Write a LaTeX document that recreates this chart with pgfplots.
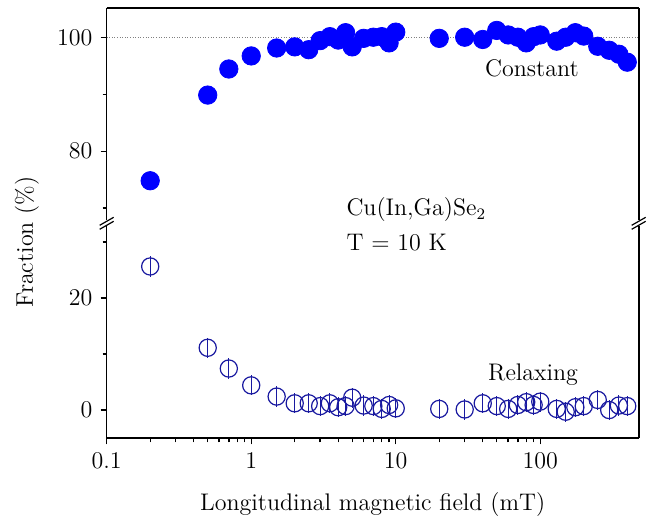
\documentclass[border=0pt]{standalone}
\usepackage{pgfplots}
\pgfplotsset{compat=1.18}
\usepackage{pgfplotstable}

\definecolor{dotblue}{RGB}{0,0,255}
\definecolor{ringblue}{RGB}{25,25,160}

% constant fraction (filled dots)
\pgfplotstableread{
x y
0.2 74.8
0.5 89.9
0.7 94.5
1 96.8
1.5 98.2
2 98.4
2.5 97.9
3 99.5
3.5 100.2
4 99.6
4.5 100.9
5 98.4
6 99.9
7 100.1
8 100.2
9 99.1
10 101.0
20 99.9
30 100.1
40 99.7
50 101.3
60 100.5
70 100.1
80 99.1
90 100.2
100 100.5
130 99.4
150 100.1
175 100.9
200 100.3
250 98.5
300 97.8
350 97.1
400 95.7
}\constant

% relaxing fraction (open circles with error bars)
\pgfplotstableread{
x y e
0.2 25.6 1.8
0.5 11.1 1.8
0.7 7.4 1.8
1 4.4 1.8
1.5 2.4 1.8
2 1.2 1.8
2.5 1.2 1.8
3 0.7 1.8
3.5 1.2 1.8
4 0.5 1.8
4.5 0.7 1.8
5 2.2 1.8
6 0.8 1.8
7 0.7 1.8
8 0.2 1.8
9 0.9 1.8
10 0.3 1.8
20 0.2 1.8
30 0.1 1.8
40 1.2 1.8
50 0.7 1.8
60 0.2 1.8
70 0.9 1.8
80 1.4 1.8
90 0.9 1.8
100 1.5 1.8
130 0.2 1.8
150 -0.3 1.8
175 0.5 1.8
200 0.7 1.8
250 1.8 1.8
300 0.0 1.8
350 0.8 1.8
400 0.7 1.8
}\relaxing

\begin{document}
\fontsize{12}{14}\selectfont
\begin{tikzpicture}

% lower part
\begin{axis}[
    width=266pt, height=107.5pt, scale only axis,
    at={(0,0)}, anchor=south west,
    xmode=log, xmin=0.1, xmax=480,
    axis x line=bottom, axis y line=box,
    axis line style={-, line width=0.8pt},
    tick align=outside, xtick pos=bottom, ytick pos=left,
    major tick length=3pt, minor tick length=2pt,
    every tick/.style={black, line width=0.7pt},
    log ticks with fixed point,
    xtick={0.1,1,10,100},
    ymin=-5.04, ymax=33.3,
    ytick={0,20}, minor ytick={10,30},
    xlabel={Longitudinal magnetic field (mT)},
    xlabel style={yshift=-4pt},
    clip=false,
]
\addplot[only marks, mark=o, mark size=4.3pt, ringblue, line width=0.6pt,
    error bars/.cd, y dir=both, y explicit, error mark=none,
    error bar style={ringblue, line width=0.6pt}]
  table[x=x, y=y, y error=e] {\relaxing};
\end{axis}

% upper part
\begin{axis}[
    width=266pt, height=107.5pt, scale only axis,
    at={(0,107.5pt)}, anchor=south west,
    xmode=log, xmin=0.1, xmax=480,
    axis x line=top, axis y line=box,
    axis line style={-, line width=0.8pt},
    tick align=outside, ytick pos=left,
    major tick length=3pt, minor tick length=2pt,
    every tick/.style={black, line width=0.7pt},
    xtick=\empty, xticklabels={},
    ymin=67.3, ymax=105.2,
    ytick={80,100}, minor ytick={70,90},
    clip=false,
]
\addplot[gray, line width=0.3pt, densely dotted] coordinates {(0.1,100) (480,100)};
\addplot[only marks, mark=*, mark size=4.6pt, dotblue] table[x=x, y=y] {\constant};
\end{axis}

% axis break marks
\foreach \xb in {0pt,266pt} {
  \fill[white] (\xb-1pt,106pt) rectangle (\xb+1pt,109pt);
  \draw[line width=0.6pt] (\xb-3.5pt,104.5pt) -- (\xb+3.5pt,108.5pt);
  \draw[line width=0.6pt] (\xb-3.5pt,106.5pt) -- (\xb+3.5pt,110.5pt);
}

% annotations
\node at (212.6pt,185.2pt) {Constant};
\node[anchor=west] at (115.7pt,114.2pt) {Cu(In,Ga)Se$_2$};
\node[anchor=west] at (115.7pt,97.7pt) {T = 10 K};
\node at (213.2pt,31.7pt) {Relaxing};
\node[rotate=90] at (-39.9pt,98.2pt) {Fraction (\%)};

\path (-53.35pt,-44.85pt) rectangle (272.65pt,219.15pt);
\end{tikzpicture}
\end{document}
